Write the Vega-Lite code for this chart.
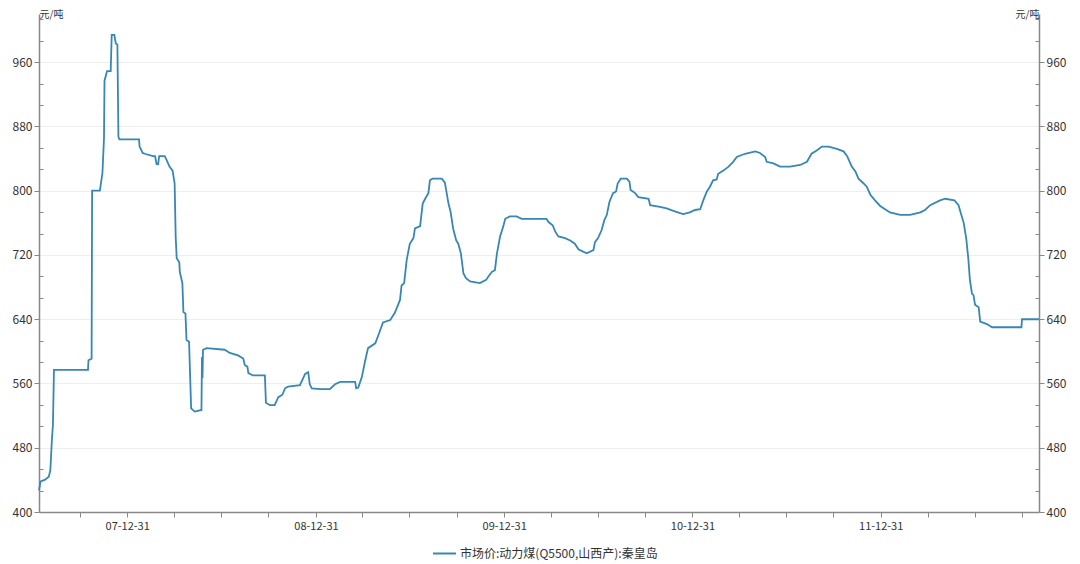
{
  "$schema": "https://vega.github.io/schema/vega-lite/v6.json",
  "width": 1000,
  "height": 498,
  "autosize": {"type": "none"},
  "padding": {"left": 39, "top": 14, "right": 41, "bottom": 52},
  "background": "white",
  "config": {"view": {"stroke": null}, "font": "Noto Sans CJK SC"},
  "data": {"values": [
    {"date": "2007-07-13", "price": 427}, {"date": "2007-07-16", "price": 438}, {"date": "2007-07-24", "price": 440},
    {"date": "2007-08-01", "price": 444}, {"date": "2007-08-04", "price": 452}, {"date": "2007-08-07", "price": 490},
    {"date": "2007-08-09", "price": 508}, {"date": "2007-08-11", "price": 577}, {"date": "2007-10-16", "price": 577},
    {"date": "2007-10-17", "price": 589}, {"date": "2007-10-23", "price": 591}, {"date": "2007-10-24", "price": 800},
    {"date": "2007-11-08", "price": 800}, {"date": "2007-11-13", "price": 822}, {"date": "2007-11-16", "price": 865},
    {"date": "2007-11-17", "price": 937}, {"date": "2007-11-22", "price": 949}, {"date": "2007-11-29", "price": 949},
    {"date": "2007-12-01", "price": 994}, {"date": "2007-12-06", "price": 994}, {"date": "2007-12-09", "price": 983},
    {"date": "2007-12-12", "price": 982}, {"date": "2007-12-14", "price": 867}, {"date": "2007-12-16", "price": 864},
    {"date": "2008-01-23", "price": 864}, {"date": "2008-01-24", "price": 855}, {"date": "2008-01-30", "price": 847},
    {"date": "2008-02-03", "price": 846}, {"date": "2008-02-19", "price": 843}, {"date": "2008-02-23", "price": 843},
    {"date": "2008-02-26", "price": 833}, {"date": "2008-02-29", "price": 833}, {"date": "2008-03-02", "price": 843},
    {"date": "2008-03-13", "price": 843}, {"date": "2008-03-18", "price": 836}, {"date": "2008-03-22", "price": 830},
    {"date": "2008-03-28", "price": 825}, {"date": "2008-04-01", "price": 809}, {"date": "2008-04-03", "price": 743},
    {"date": "2008-04-05", "price": 716}, {"date": "2008-04-10", "price": 711}, {"date": "2008-04-11", "price": 699},
    {"date": "2008-04-16", "price": 685}, {"date": "2008-04-18", "price": 649}, {"date": "2008-04-22", "price": 647},
    {"date": "2008-04-24", "price": 614}, {"date": "2008-04-29", "price": 612}, {"date": "2008-05-01", "price": 570},
    {"date": "2008-05-03", "price": 529}, {"date": "2008-05-10", "price": 525}, {"date": "2008-05-23", "price": 527},
    {"date": "2008-05-24", "price": 593}, {"date": "2008-05-25", "price": 567}, {"date": "2008-05-26", "price": 602},
    {"date": "2008-06-02", "price": 604}, {"date": "2008-07-07", "price": 602}, {"date": "2008-07-17", "price": 598},
    {"date": "2008-08-02", "price": 595}, {"date": "2008-08-12", "price": 591}, {"date": "2008-08-15", "price": 583},
    {"date": "2008-08-20", "price": 581}, {"date": "2008-08-22", "price": 573}, {"date": "2008-08-31", "price": 570},
    {"date": "2008-09-23", "price": 570}, {"date": "2008-09-25", "price": 536}, {"date": "2008-10-03", "price": 533},
    {"date": "2008-10-12", "price": 533}, {"date": "2008-10-19", "price": 543}, {"date": "2008-10-27", "price": 546},
    {"date": "2008-11-01", "price": 554}, {"date": "2008-11-07", "price": 556}, {"date": "2008-11-30", "price": 558},
    {"date": "2008-12-10", "price": 572}, {"date": "2008-12-16", "price": 574}, {"date": "2008-12-19", "price": 559},
    {"date": "2008-12-23", "price": 554}, {"date": "2009-01-08", "price": 553}, {"date": "2009-01-27", "price": 553},
    {"date": "2009-02-06", "price": 559}, {"date": "2009-02-16", "price": 562}, {"date": "2009-03-17", "price": 562},
    {"date": "2009-03-19", "price": 554}, {"date": "2009-03-23", "price": 555}, {"date": "2009-03-30", "price": 568},
    {"date": "2009-04-05", "price": 587}, {"date": "2009-04-11", "price": 604}, {"date": "2009-04-25", "price": 610},
    {"date": "2009-05-01", "price": 620}, {"date": "2009-05-10", "price": 636}, {"date": "2009-05-24", "price": 639},
    {"date": "2009-06-02", "price": 648}, {"date": "2009-06-12", "price": 664}, {"date": "2009-06-15", "price": 682},
    {"date": "2009-06-20", "price": 685}, {"date": "2009-06-25", "price": 714}, {"date": "2009-07-01", "price": 734},
    {"date": "2009-07-08", "price": 741}, {"date": "2009-07-11", "price": 753}, {"date": "2009-07-21", "price": 756},
    {"date": "2009-07-26", "price": 784}, {"date": "2009-07-30", "price": 789}, {"date": "2009-08-06", "price": 797},
    {"date": "2009-08-09", "price": 813}, {"date": "2009-08-14", "price": 815}, {"date": "2009-09-01", "price": 815},
    {"date": "2009-09-07", "price": 810}, {"date": "2009-09-14", "price": 784}, {"date": "2009-09-18", "price": 774},
    {"date": "2009-09-23", "price": 753}, {"date": "2009-09-29", "price": 738}, {"date": "2009-10-03", "price": 734},
    {"date": "2009-10-08", "price": 722}, {"date": "2009-10-13", "price": 697}, {"date": "2009-10-18", "price": 691},
    {"date": "2009-10-26", "price": 687}, {"date": "2009-11-14", "price": 685}, {"date": "2009-11-26", "price": 689},
    {"date": "2009-11-30", "price": 693}, {"date": "2009-12-07", "price": 699}, {"date": "2009-12-13", "price": 701},
    {"date": "2009-12-17", "price": 722}, {"date": "2009-12-23", "price": 743}, {"date": "2009-12-29", "price": 755},
    {"date": "2010-01-02", "price": 765}, {"date": "2010-01-11", "price": 768}, {"date": "2010-01-24", "price": 768},
    {"date": "2010-02-03", "price": 765}, {"date": "2010-03-23", "price": 765}, {"date": "2010-03-27", "price": 761},
    {"date": "2010-04-04", "price": 757}, {"date": "2010-04-09", "price": 749}, {"date": "2010-04-15", "price": 743},
    {"date": "2010-04-28", "price": 741}, {"date": "2010-05-08", "price": 738}, {"date": "2010-05-17", "price": 734},
    {"date": "2010-05-24", "price": 727}, {"date": "2010-05-27", "price": 726}, {"date": "2010-06-09", "price": 722},
    {"date": "2010-06-22", "price": 726}, {"date": "2010-06-25", "price": 736}, {"date": "2010-07-01", "price": 741},
    {"date": "2010-07-08", "price": 751}, {"date": "2010-07-13", "price": 763}, {"date": "2010-07-18", "price": 770},
    {"date": "2010-07-23", "price": 786}, {"date": "2010-07-30", "price": 797}, {"date": "2010-08-05", "price": 799},
    {"date": "2010-08-08", "price": 809}, {"date": "2010-08-14", "price": 815}, {"date": "2010-08-26", "price": 815},
    {"date": "2010-08-31", "price": 811}, {"date": "2010-09-02", "price": 801}, {"date": "2010-09-11", "price": 797},
    {"date": "2010-09-17", "price": 792}, {"date": "2010-10-07", "price": 790}, {"date": "2010-10-10", "price": 782},
    {"date": "2010-10-29", "price": 780}, {"date": "2010-11-11", "price": 778}, {"date": "2010-11-24", "price": 775},
    {"date": "2010-12-13", "price": 771}, {"date": "2010-12-26", "price": 773}, {"date": "2011-01-05", "price": 776},
    {"date": "2011-01-15", "price": 777}, {"date": "2011-01-21", "price": 788}, {"date": "2011-01-28", "price": 799},
    {"date": "2011-02-03", "price": 805}, {"date": "2011-02-09", "price": 813}, {"date": "2011-02-16", "price": 814},
    {"date": "2011-02-19", "price": 821}, {"date": "2011-03-01", "price": 825}, {"date": "2011-03-11", "price": 830},
    {"date": "2011-03-20", "price": 836}, {"date": "2011-03-27", "price": 842}, {"date": "2011-04-12", "price": 846},
    {"date": "2011-05-02", "price": 849}, {"date": "2011-05-11", "price": 847}, {"date": "2011-05-21", "price": 842},
    {"date": "2011-05-24", "price": 836}, {"date": "2011-06-06", "price": 834}, {"date": "2011-06-19", "price": 830},
    {"date": "2011-07-08", "price": 830}, {"date": "2011-07-28", "price": 832}, {"date": "2011-08-10", "price": 836},
    {"date": "2011-08-19", "price": 846}, {"date": "2011-08-29", "price": 850}, {"date": "2011-09-08", "price": 855},
    {"date": "2011-09-21", "price": 855}, {"date": "2011-10-07", "price": 852}, {"date": "2011-10-20", "price": 849},
    {"date": "2011-10-27", "price": 843}, {"date": "2011-11-05", "price": 830}, {"date": "2011-11-12", "price": 824},
    {"date": "2011-11-18", "price": 815}, {"date": "2011-11-28", "price": 809}, {"date": "2011-12-04", "price": 805},
    {"date": "2011-12-11", "price": 795}, {"date": "2011-12-20", "price": 788}, {"date": "2011-12-30", "price": 781},
    {"date": "2012-01-18", "price": 773}, {"date": "2012-02-07", "price": 770}, {"date": "2012-02-26", "price": 770},
    {"date": "2012-03-17", "price": 773}, {"date": "2012-03-26", "price": 776}, {"date": "2012-04-05", "price": 782},
    {"date": "2012-04-24", "price": 788}, {"date": "2012-05-04", "price": 790}, {"date": "2012-05-22", "price": 788},
    {"date": "2012-05-30", "price": 782}, {"date": "2012-06-03", "price": 773}, {"date": "2012-06-09", "price": 760},
    {"date": "2012-06-14", "price": 740}, {"date": "2012-06-18", "price": 715}, {"date": "2012-06-21", "price": 689},
    {"date": "2012-06-25", "price": 672}, {"date": "2012-06-28", "price": 670}, {"date": "2012-07-01", "price": 658},
    {"date": "2012-07-08", "price": 655}, {"date": "2012-07-11", "price": 637}, {"date": "2012-07-24", "price": 634},
    {"date": "2012-08-03", "price": 630}, {"date": "2012-09-29", "price": 630}, {"date": "2012-09-30", "price": 640},
    {"date": "2012-11-02", "price": 640}
  ]},
  "encoding": {
    "x": {
      "field": "date", "type": "temporal",
      "scale": {"type": "utc", "domain": [{"year": 2007, "month": 7, "date": 13, "utc": true}, {"year": 2012, "month": 11, "date": 2, "utc": true}]},
      "axis": {
        "values": [
          {"year": 2007, "month": 9, "date": 30, "utc": true}, {"year": 2007, "month": 12, "date": 31, "utc": true},
          {"year": 2008, "month": 3, "date": 31, "utc": true}, {"year": 2008, "month": 6, "date": 30, "utc": true},
          {"year": 2008, "month": 9, "date": 30, "utc": true}, {"year": 2008, "month": 12, "date": 31, "utc": true},
          {"year": 2009, "month": 3, "date": 31, "utc": true}, {"year": 2009, "month": 6, "date": 30, "utc": true},
          {"year": 2009, "month": 9, "date": 30, "utc": true}, {"year": 2009, "month": 12, "date": 31, "utc": true},
          {"year": 2010, "month": 3, "date": 31, "utc": true}, {"year": 2010, "month": 6, "date": 30, "utc": true},
          {"year": 2010, "month": 9, "date": 30, "utc": true}, {"year": 2010, "month": 12, "date": 31, "utc": true},
          {"year": 2011, "month": 3, "date": 31, "utc": true}, {"year": 2011, "month": 6, "date": 30, "utc": true},
          {"year": 2011, "month": 9, "date": 30, "utc": true}, {"year": 2011, "month": 12, "date": 31, "utc": true},
          {"year": 2012, "month": 3, "date": 31, "utc": true}, {"year": 2012, "month": 6, "date": 30, "utc": true},
          {"year": 2012, "month": 9, "date": 30, "utc": true}
        ],
        "labelExpr": "utcmonth(datum.value) == 11 ? utcFormat(datum.value, '%y-%m-%d') : ''",
        "title": null, "grid": false, "labelOverlap": false, "labelFlush": false,
        "domainColor": "#888888", "domainWidth": 1.5, "tickColor": "#888888", "tickSize": 5, "tickWidth": 1,
        "labelFontSize": 11, "labelColor": "#333333", "labelPadding": 3
      }
    }
  },
  "layer": [
    {
      "mark": {"type": "line", "strokeWidth": 1.8, "interpolate": "linear"},
      "encoding": {
        "y": {
          "field": "price", "type": "quantitative",
          "scale": {"domain": [400, 1020], "nice": false, "zero": false},
          "axis": {
            "orient": "left",
            "values": [400, 426.6667, 453.3333, 480, 506.6667, 533.3333, 560, 586.6667, 613.3333, 640, 666.6667, 693.3333, 720, 746.6667, 773.3333, 800, 826.6667, 853.3333, 880, 906.6667, 933.3333, 960, 986.6667, 1013.3333],
            "labelExpr": "datum.value % 80 == 0 ? format(datum.value, 'd') : ''",
            "labelOverlap": false, "labelFlush": false,
            "title": "元/吨", "titleAngle": 0, "titleX": 0, "titleY": 0, "titleAlign": "left", "titleBaseline": "middle",
            "titleFontSize": 10, "titleFontWeight": "normal", "titleColor": "#333333",
            "grid": true, "gridColor": "#eeeeee",
            "gridOpacity": {"condition": {"test": "datum.value % 80 == 0 && datum.value > 400", "value": 1}, "value": 0},
            "tickSize": {"condition": {"test": "datum.value % 80 == 0", "value": 5}, "value": -4},
            "tickColor": "#888888", "domainColor": "#888888", "domainWidth": 1.5,
            "labelFontSize": 12, "labelColor": "#333333", "labelPadding": 2
          }
        },
        "color": {
          "datum": "市场价:动力煤(Q5500,山西产):秦皇岛", "type": "nominal",
          "scale": {"range": ["#3787b4"]},
          "legend": {
            "orient": "none", "legendX": 393, "legendY": 527, "direction": "horizontal", "title": null,
            "symbolType": "stroke", "symbolSize": 529, "symbolStrokeWidth": 2,
            "labelFontSize": 12, "labelColor": "#333333", "labelOffset": 3, "labelLimit": 0
          }
        }
      }
    },
    {
      "mark": {"type": "line", "opacity": 0},
      "encoding": {
        "y": {
          "field": "price", "type": "quantitative",
          "scale": {"domain": [400, 1020], "nice": false, "zero": false},
          "axis": {
            "orient": "right",
            "values": [400, 426.6667, 453.3333, 480, 506.6667, 533.3333, 560, 586.6667, 613.3333, 640, 666.6667, 693.3333, 720, 746.6667, 773.3333, 800, 826.6667, 853.3333, 880, 906.6667, 933.3333, 960, 986.6667, 1013.3333],
            "labelExpr": "datum.value % 80 == 0 ? format(datum.value, 'd') : ''",
            "labelOverlap": false, "labelFlush": false,
            "title": "元/吨", "titleAngle": 0, "titleX": 0, "titleY": 0, "titleAlign": "right", "titleBaseline": "middle",
            "titleFontSize": 10, "titleFontWeight": "normal", "titleColor": "#333333",
            "grid": false,
            "tickSize": {"condition": {"test": "datum.value % 80 == 0", "value": 5}, "value": -4},
            "tickColor": "#888888", "domainColor": "#888888", "domainWidth": 1.5,
            "labelFontSize": 12, "labelColor": "#333333", "labelPadding": 2
          }
        }
      }
    }
  ],
  "resolve": {"scale": {"y": "independent"}}
}
